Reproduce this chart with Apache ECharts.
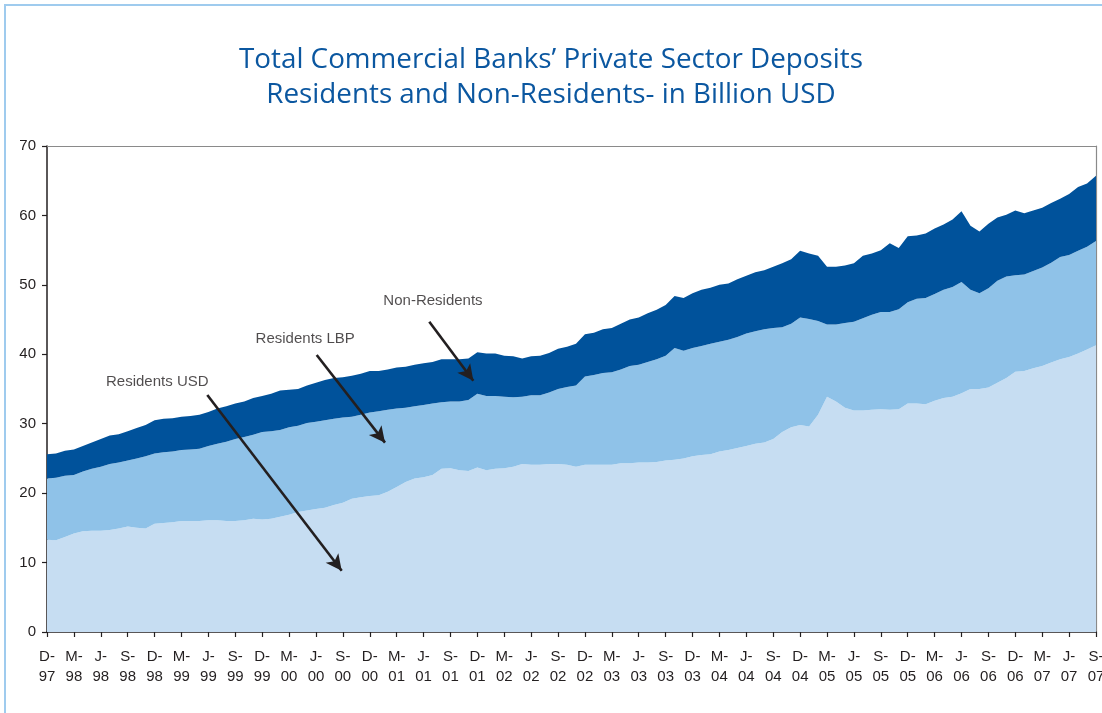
<!DOCTYPE html>
<html>
<head>
<meta charset="utf-8">
<style>
  html, body { margin: 0; padding: 0; background: #ffffff; }
  #chart { width: 1102px; height: 713px; }
</style>
<script src="https://cdn.jsdelivr.net/npm/echarts@6/dist/echarts.min.js"></script>
</head>
<body>
<div id="chart"></div>
<script>
// Monthly deposits, Dec 1997 – Sep 2007, billion USD
const monthLetters = ['J', 'F', 'M', 'A', 'M', 'J', 'J', 'A', 'S', 'O', 'N', 'D'];
const firstYear = 1997, firstMonth = 11, monthCount = 118;
const categories = [];
for (let k = 0; k < monthCount; k++) {
  const m = (firstMonth + k) % 12;
  const y = firstYear + Math.floor((firstMonth + k) / 12);
  categories.push(monthLetters[m] + '-' + String(y % 100).padStart(2, '0'));
}

const residentsUSD = [
  13.3, 13.2, 13.7, 14.2, 14.5, 14.6, 14.6, 14.7, 14.9, 15.2, 15.0, 14.9,
  15.6, 15.7, 15.8, 16.0, 16.0, 16.0, 16.1, 16.1, 16.0, 16.0, 16.1, 16.3,
  16.2, 16.3, 16.6, 16.9, 17.3, 17.5, 17.7, 17.9, 18.3, 18.6, 19.2, 19.4,
  19.6, 19.7, 20.2, 20.9, 21.6, 22.1, 22.3, 22.6, 23.5, 23.6, 23.3, 23.2,
  23.7, 23.3, 23.5, 23.6, 23.8, 24.2, 24.1, 24.1, 24.2, 24.2, 24.1, 23.8,
  24.1, 24.1, 24.1, 24.1, 24.3, 24.3, 24.4, 24.4, 24.5, 24.7, 24.8, 25.0,
  25.3, 25.5, 25.6, 26.0, 26.2, 26.5, 26.8, 27.1, 27.3, 27.8, 28.8, 29.5,
  29.8, 29.6, 31.3, 33.9, 33.2, 32.3, 31.9, 31.9, 32.0, 32.1, 32.0, 32.1,
  32.9, 32.9, 32.8, 33.3, 33.7, 33.9, 34.4, 35.0, 35.0, 35.2, 35.9, 36.6,
  37.5, 37.6, 38.0, 38.3, 38.8, 39.3, 39.6, 40.1, 40.7, 41.3
];

const residentsLBP = [
  8.8, 9.0, 8.8, 8.4, 8.6, 8.9, 9.2, 9.5, 9.5, 9.5, 10.0, 10.4,
  10.1, 10.2, 10.2, 10.2, 10.3, 10.4, 10.7, 11.0, 11.4, 11.8, 12.0, 12.1,
  12.6, 12.6, 12.5, 12.6, 12.4, 12.6, 12.6, 12.6, 12.4, 12.3, 11.8, 11.9,
  12.0, 12.1, 11.8, 11.3, 10.7, 10.4, 10.4, 10.3, 9.6, 9.6, 9.9, 10.2,
  10.6, 10.7, 10.5, 10.3, 10.0, 9.7, 10.0, 10.0, 10.3, 10.8, 11.2, 11.7,
  12.7, 12.9, 13.2, 13.3, 13.5, 14.0, 14.1, 14.5, 14.8, 15.1, 16.1, 15.5,
  15.6, 15.7, 15.9, 15.8, 15.9, 16.0, 16.2, 16.2, 16.3, 16.0, 15.1, 14.9,
  15.5, 15.5, 13.5, 10.4, 11.1, 12.2, 12.8, 13.3, 13.7, 14.0, 14.1, 14.4,
  14.6, 15.1, 15.3, 15.4, 15.6, 15.8, 16.0, 14.3, 13.8, 14.3, 14.7, 14.6,
  13.9, 13.9, 14.0, 14.2, 14.4, 14.7, 14.7, 14.8, 14.8, 15.0
];

const nonResidents = [
  3.5, 3.5, 3.6, 3.7, 3.7, 3.8, 4.0, 4.1, 4.1, 4.2, 4.4, 4.5,
  4.8, 4.8, 4.8, 4.8, 4.8, 4.9, 4.9, 5.1, 5.1, 5.1, 5.1, 5.3,
  5.2, 5.4, 5.7, 5.4, 5.3, 5.4, 5.6, 5.8, 5.9, 5.8, 5.9, 5.9,
  6.0, 5.8, 5.8, 5.9, 5.9, 6.0, 6.0, 6.0, 6.2, 6.1, 6.1, 6.0,
  6.0, 6.1, 6.1, 5.9, 5.9, 5.5, 5.6, 5.7, 5.7, 5.8, 5.8, 6.0,
  6.1, 6.1, 6.3, 6.4, 6.6, 6.7, 6.8, 7.0, 7.1, 7.3, 7.5, 7.6,
  7.9, 8.1, 8.1, 8.2, 8.1, 8.3, 8.3, 8.5, 8.5, 8.8, 9.2, 9.3,
  9.6, 9.4, 9.4, 8.3, 8.3, 8.3, 8.4, 9.0, 8.8, 8.9, 9.9, 8.8,
  9.5, 9.1, 9.3, 9.4, 9.4, 9.7, 10.2, 9.2, 8.9, 9.3, 9.1, 8.9,
  9.3, 8.8, 8.7, 8.6, 8.6, 8.4, 8.8, 9.2, 9.1, 9.4
];

const yTicks = { min: 0, max: 70, step: 10 };

// Callout texts (month index, value) and their arrows (from -> tip)
const callouts = [
  { name: 'Non-Residents', at: [43.05, 47.7], from: [42.64, 44.69], to: [47.55, 36.19] },
  { name: 'Residents LBP', at: [28.8, 42.2], from: [30.08, 39.9], to: [37.7, 27.27] },
  { name: 'Residents USD', at: [12.3, 36.1], from: [17.88, 34.13], to: [32.87, 8.83] }
];

const FONT = '"Liberation Sans", Arial, sans-serif';
const TEXT = '#231f20';

const chart = echarts.init(document.getElementById('chart'), null, { renderer: 'canvas' });

function areaSeries(name, data, color) {
  return {
    name: name,
    type: 'line',
    stack: 'deposits',
    data: data,
    symbol: 'none',
    showSymbol: false,
    lineStyle: { width: 0, color: color },
    itemStyle: { color: color },
    areaStyle: { color: color, opacity: 1 },
    emphasis: { disabled: true },
    silent: true
  };
}

chart.setOption({
  animation: false,
  backgroundColor: '#ffffff',
  title: {
    text: 'Total Commercial Banks’ Private Sector Deposits\nResidents and Non-Residents- in Billion USD',
    left: 'center',
    top: 38,
    textStyle: {
      fontFamily: '"Open Sans", sans-serif',
      fontWeight: 'normal',
      fontSize: 27.8,
      lineHeight: 35,
      color: '#0b57a0'
    }
  },
  graphic: [{
    type: 'rect',
    silent: true,
    shape: { x: 5, y: 5, width: 1200, height: 800 },
    style: { fill: 'none', stroke: '#9fcbee', lineWidth: 2 }
  }],
  grid: { left: 47, right: 6, top: 146, bottom: 81, containLabel: false, outerBoundsMode: 'none' },
  xAxis: [{
    type: 'category',
    data: categories,
    boundaryGap: false,
    position: 'bottom',
    axisLine: { show: true, lineStyle: { color: '#231f20', width: 1.5 } },
    axisTick: { show: true, interval: 2, length: 5, inside: false, lineStyle: { color: '#231f20', width: 1.2 } },
    axisLabel: {
      interval: 2,
      margin: 15,
      fontFamily: FONT,
      fontSize: 15,
      lineHeight: 20,
      color: TEXT,
      hideOverlap: false,
      formatter: function (v) { return v.replace('-', '-\n'); }
    },
    splitLine: { show: false }
  }, {
    type: 'value',
    position: 'top',
    min: 0,
    max: monthCount - 1,
    axisLine: { show: true, onZero: false, lineStyle: { color: '#8a8a8a', width: 1.2 } },
    axisTick: { show: false },
    axisLabel: { show: false },
    splitLine: { show: false }
  }],
  yAxis: [{
    type: 'value',
    min: yTicks.min,
    max: yTicks.max,
    interval: yTicks.step,
    axisLine: { show: true, lineStyle: { color: '#231f20', width: 1.5 } },
    axisTick: { show: true, length: 5, lineStyle: { color: '#231f20', width: 1.2 } },
    axisLabel: { margin: 11, fontFamily: FONT, fontSize: 15, color: TEXT },
    splitLine: { show: false }
  }, {
    type: 'value',
    position: 'right',
    min: yTicks.min,
    max: yTicks.max,
    interval: yTicks.step,
    axisLine: { show: true, lineStyle: { color: '#8a8a8a', width: 1.2 } },
    axisTick: { show: false },
    axisLabel: { show: false },
    splitLine: { show: false }
  }],
  series: [
    areaSeries('Residents USD', residentsUSD, '#c6ddf2'),
    areaSeries('Residents LBP', residentsLBP, '#8fc2e8'),
    areaSeries('Non-Residents', nonResidents, '#00529b'),
    {
      name: 'callouts',
      type: 'scatter',
      xAxisIndex: 1,
      yAxisIndex: 0,
      z: 5,
      silent: true,
      symbol: 'circle',
      symbolSize: 1,
      itemStyle: { color: 'rgba(0,0,0,0)' },
      label: {
        show: true,
        position: 'inside',
        formatter: '{b}',
        fontFamily: FONT,
        fontSize: 15,
        color: TEXT
      },
      data: callouts.map(c => ({ name: c.name, value: c.at })),
      markLine: {
        silent: true,
        animation: false,
        symbol: ['none', 'arrow'],
        symbolSize: [12, 16],
        label: { show: false },
        lineStyle: { color: '#231f20', width: 2.6, type: 'solid' },
        emphasis: { disabled: true },
        data: callouts.map(c => [{ coord: c.from }, { coord: c.to }])
      }
    }
  ]
});
</script>
</body>
</html>
